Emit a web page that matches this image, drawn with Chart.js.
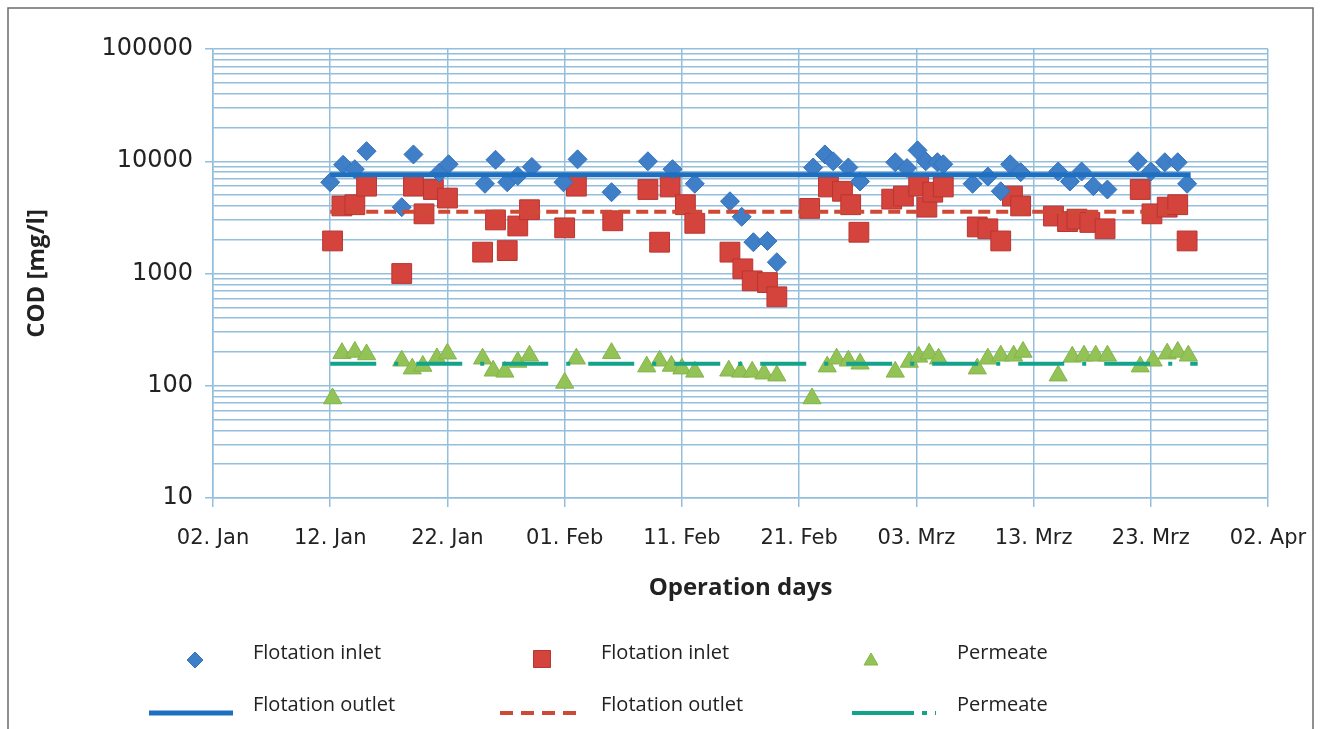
<!DOCTYPE html>
<html>
<head>
<meta charset="utf-8">
<title>COD</title>
<script src="https://cdn.jsdelivr.net/npm/chart.js@4.4.1/dist/chart.umd.min.js"></script>
<style>
  html, body { margin: 0; padding: 0; background: #fff; }
  canvas { display: block; }
</style>
</head>
<body>
<canvas id="cod-chart" width="1321" height="729"></canvas>
<script>
// x values are day of year (1 = 01. Jan)
const xTickLabels = ['02. Jan', '12. Jan', '22. Jan', '01. Feb', '11. Feb', '21. Feb', '03. Mrz', '13. Mrz', '23. Mrz', '02. Apr'];
const yTickValues = [10, 100, 1000, 10000, 100000];
const yTickLabels = ['10', '100', '1000', '10000', '100000'];

const inletBlueDays = [12.0, 13.1, 14.1, 15.1, 18.1, 19.1, 21.3, 22.1, 25.2, 26.1, 27.1, 28.0, 29.2, 31.9, 33.1, 36.0, 39.1, 41.2, 43.1, 46.1, 47.1, 48.1, 49.3, 50.1, 53.2, 54.2, 54.9, 56.2, 57.2, 60.2, 61.2, 62.1, 62.8, 63.8, 64.3, 66.8, 68.1, 69.2, 70.0, 70.9, 74.1, 75.1, 76.1, 77.1, 78.3, 80.9, 82.0, 83.2, 84.3, 85.1];
const inletBlueCod = [6500, 9300, 8500, 12300, 3900, 11500, 7900, 9400, 6300, 10300, 6500, 7400, 8900, 6500, 10400, 5300, 10000, 8500, 6300, 4400, 3200, 1900, 1950, 1260, 8800, 11500, 10000, 8800, 6600, 9800, 8700, 12500, 10000, 9800, 9400, 6300, 7300, 5400, 9400, 8000, 8100, 6600, 8100, 6000, 5600, 10000, 8100, 9800, 9800, 6300];

const inletRedDays = [12.2, 13.0, 14.1, 15.1, 18.1, 19.1, 20.0, 20.8, 22.0, 25.0, 26.1, 27.1, 28.0, 29.0, 32.0, 33.0, 36.1, 39.1, 40.1, 41.0, 42.3, 43.1, 46.1, 47.2, 48.0, 49.3, 50.1, 52.9, 54.5, 55.7, 56.4, 57.1, 59.9, 60.9, 62.2, 62.9, 63.4, 64.3, 67.2, 68.1, 69.2, 70.2, 70.9, 73.7, 74.9, 75.7, 76.8, 78.1, 81.1, 82.1, 83.4, 84.3, 85.1];
const inletRedCod = [1950, 4000, 4100, 6000, 1000, 6000, 3400, 5600, 4700, 1550, 3000, 1600, 2650, 3700, 2550, 6000, 2950, 5600, 1900, 5900, 4100, 2800, 1550, 1100, 860, 830, 620, 3800, 5900, 5400, 4100, 2330, 4600, 4900, 6000, 3900, 5300, 5900, 2600, 2500, 1950, 4900, 4000, 3250, 2900, 3050, 2850, 2500, 5600, 3400, 3900, 4100, 1950];

const permeateDays = [12.2, 13.0, 14.1, 15.1, 18.1, 19.0, 19.9, 21.1, 22.0, 25.0, 25.9, 26.9, 28.0, 29.0, 32.0, 33.0, 36.0, 39.0, 40.1, 41.1, 42.0, 43.1, 46.0, 47.0, 48.0, 49.0, 50.1, 53.1, 54.4, 55.2, 56.2, 57.2, 60.2, 61.4, 62.2, 63.1, 63.9, 67.2, 68.1, 69.2, 70.3, 71.1, 74.1, 75.3, 76.3, 77.3, 78.3, 81.1, 82.2, 83.4, 84.3, 85.2];
const permeateCod = [77, 195, 200, 190, 167, 142, 150, 175, 193, 174, 136, 133, 163, 185, 106, 174, 195, 148, 167, 150, 142, 133, 136, 133, 133, 128, 123, 77, 148, 174, 167, 157, 133, 163, 181, 193, 174, 142, 174, 185, 185, 200, 123, 181, 185, 185, 185, 148, 167, 193, 200, 185];

// outlet levels, drawn as flat lines over the measuring period
const outletBlueDays = [12.0, 85.4];
const outletBlueCod = [7600, 7600];
const outletRedDays = [12.0, 85.0];
const outletRedCod = [3550, 3550];
const permeateLineDays = [12.0, 86.0];
const permeateLineCod = [157, 157];

const toPoints = (xs, ys) => xs.map((x, i) => ({ x, y: ys[i] }));

const gridColor = '#93bfdd';
const textColor = '#222';

const datasets = [
  {
    label: 'Flotation inlet',
    data: toPoints(inletBlueDays, inletBlueCod),
    pointStyle: 'rectRot',
    pointRadius: 9.5,
    backgroundColor: '#3f7fc8',
    borderColor: '#3572bd',
    borderWidth: 1,
    order: 2
  },
  {
    label: 'Flotation inlet',
    data: toPoints(inletRedDays, inletRedCod),
    pointStyle: 'rect',
    pointRadius: 14,
    backgroundColor: '#d4443d',
    borderColor: '#b93530',
    borderWidth: 1,
    order: 2
  },
  {
    label: 'Permeate',
    data: toPoints(permeateDays, permeateCod),
    pointStyle: 'triangle',
    pointRadius: 10.5,
    backgroundColor: '#93c257',
    borderColor: '#84b548',
    borderWidth: 1,
    order: 2
  },
  {
    label: 'Flotation outlet',
    data: toPoints(outletBlueDays, outletBlueCod),
    showLine: true,
    pointRadius: 0,
    borderColor: '#1f6fc0',
    borderWidth: 5,
    order: 1
  },
  {
    label: 'Flotation outlet',
    data: toPoints(outletRedDays, outletRedCod),
    showLine: true,
    pointRadius: 0,
    borderColor: '#cf4a36',
    borderWidth: 4,
    borderDash: [12, 6],
    order: 1
  },
  {
    label: 'Permeate',
    data: toPoints(permeateLineDays, permeateLineCod),
    showLine: true,
    pointRadius: 0,
    borderColor: '#13a28a',
    borderWidth: 4,
    borderDash: [46, 18, 4, 18],
    order: 1
  }
];

// where each legend entry sits: [dataset index, marker x, marker y, text x, text y]
const legendSlots = [
  [0, 195, 660, 253, 653],
  [1, 542, 659, 601, 653],
  [2, 871, 661, 957, 653],
  [3, 191, 713, 253, 705],
  [4, 542, 713, 601, 705],
  [5, 894, 713, 957, 705]
];

const frameAndBackground = {
  id: 'frameAndBackground',
  beforeDraw(chart) {
    const ctx = chart.ctx;
    ctx.save();
    ctx.fillStyle = '#fff';
    ctx.fillRect(0, 0, chart.width, chart.height);
    ctx.strokeStyle = '#6b6b6b';
    ctx.lineWidth = 1.5;
    ctx.strokeRect(8, 8, 1305, 740);
    ctx.restore();
  }
};

const columnLegend = {
  id: 'columnLegend',
  afterDraw(chart) {
    const ctx = chart.ctx;
    ctx.save();
    legendSlots.forEach(([index, markerX, markerY, textX, textY]) => {
      const ds = chart.data.datasets[index];
      if (ds.showLine) {
        ctx.strokeStyle = ds.borderColor;
        ctx.lineWidth = ds.borderWidth;
        ctx.setLineDash(index === 4 ? [13, 8] : index === 5 ? [62, 8, 5, 8] : []);
        ctx.beginPath();
        ctx.moveTo(markerX - 42, markerY);
        ctx.lineTo(markerX + 42, markerY);
        ctx.stroke();
        ctx.setLineDash([]);
      } else {
        ctx.fillStyle = ds.backgroundColor;
        ctx.strokeStyle = ds.borderColor;
        ctx.lineWidth = 1;
        Chart.helpers.drawPoint(ctx, {
          pointStyle: ds.pointStyle,
          radius: ds.pointStyle === 'rect' ? 12 : 8,
          rotation: 0,
          borderWidth: 1
        }, markerX, markerY);
      }
      ctx.fillStyle = textColor;
      ctx.font = '20px "Open Sans"';
      ctx.textBaseline = 'middle';
      ctx.textAlign = 'left';
      ctx.fillText(ds.label, textX, textY);
    });
    ctx.restore();
  }
};

new Chart(document.getElementById('cod-chart'), {
  type: 'scatter',
  data: { datasets },
  plugins: [frameAndBackground, columnLegend],
  options: {
    responsive: false,
    animation: false,
    layout: {
      padding: { left: 0, top: 49, right: 53, bottom: 121 }
    },
    plugins: {
      legend: { display: false },
      tooltip: { enabled: false }
    },
    scales: {
      x: {
        type: 'linear',
        min: 2,
        max: 92,
        afterFit: (scale) => {
          scale.height = 110;
          scale.paddingLeft = 0;
          scale.paddingRight = 0;
        },
        ticks: {
          stepSize: 10,
          autoSkip: false,
          maxRotation: 0,
          padding: 19,
          color: textColor,
          font: { family: 'DejaVu Sans', size: 21 },
          callback: (value, index) => xTickLabels[index]
        },
        grid: {
          color: gridColor,
          lineWidth: 1.5,
          tickLength: 9,
          tickColor: gridColor
        },
        border: { color: gridColor, width: 1.5 },
        title: {
          display: true,
          text: 'Operation days',
          color: textColor,
          font: { family: 'Open Sans', size: 24, weight: 'bold' },
          padding: { bottom: 5 }
        }
      },
      y: {
        type: 'logarithmic',
        min: 10,
        max: 100000,
        afterFit: (scale) => {
          scale.width = 213;
          scale.paddingTop = 0;
          scale.paddingBottom = 0;
        },
        afterBuildTicks: (scale) => {
          const ticks = [];
          for (let decade = 10; decade < 100000; decade *= 10) {
            for (let m = 1; m < 10; m++) ticks.push({ value: decade * m });
          }
          ticks.push({ value: 100000 });
          scale.ticks = ticks;
        },
        ticks: {
          autoSkip: false,
          padding: 12,
          color: textColor,
          font: { family: 'DejaVu Sans', size: 24 },
          callback: (value) => {
            const i = yTickValues.indexOf(value);
            return i >= 0 ? yTickLabels[i] : '';
          }
        },
        grid: {
          color: gridColor,
          lineWidth: 1.5,
          tickLength: 8,
          tickColor: (ctx) => (yTickValues.includes(ctx.tick && ctx.tick.value) ? gridColor : 'rgba(0,0,0,0)')
        },
        border: { color: gridColor, width: 1.5 },
        title: {
          display: true,
          text: 'COD [mg/l]',
          color: textColor,
          font: { family: 'Open Sans', size: 24, weight: 'bold' },
          padding: { top: 23 }
        }
      }
    }
  }
});
</script>
</body>
</html>
